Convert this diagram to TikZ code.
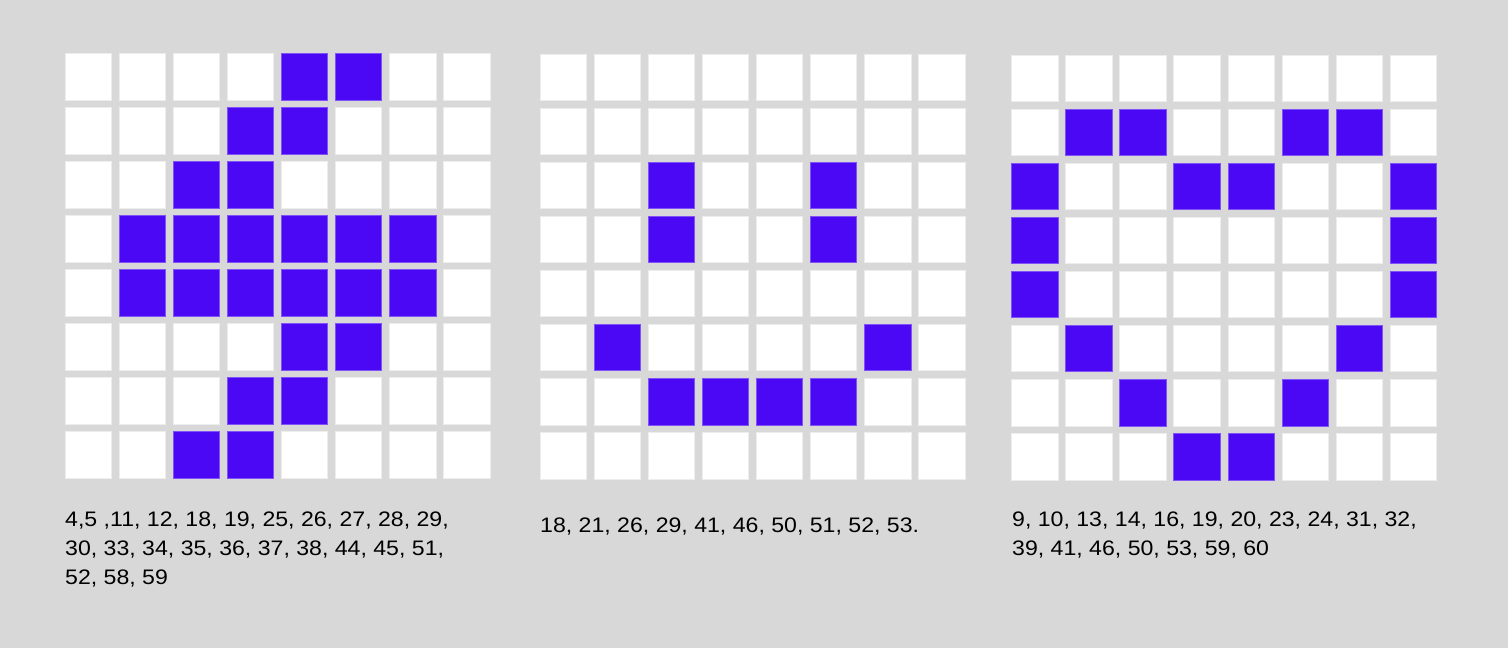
\documentclass[tikz,border=0pt]{standalone}
\usepackage{fontspec}
\setmainfont{Liberation Sans}[FakeStretch=1.1]
\definecolor{bg}{HTML}{D8D8D8}
\definecolor{pix}{HTML}{4B08F5}

\begin{document}
\begin{tikzpicture}[x=1pt,y=-1pt,
  cell/.style={draw=black!7,line width=0.8pt,fill=white,minimum size=46.6pt,inner sep=0pt,outer sep=0pt},
  oncell/.style={cell,fill=pix,draw=pix!70!white},
  caption/.style={anchor=base west,inner sep=0pt,align=left,font=\fontsize{21}{29}\selectfont}]
  \useasboundingbox (0,0) rectangle (1508,648);
  \fill[bg] (0,0) rectangle (1508,648);
  % first grid
  \foreach \n in {0,...,63}
    \node[cell] (a\n) at ({88.3+mod(\n,8)*54.05},{76.6+int(\n/8)*54.05}) {};
  \foreach \n in {4,5,11,12,18,19,25,26,27,28,29,30,33,34,35,36,37,38,44,45,51,52,58,59}
    \node[oncell] (a\n) at ({88.3+mod(\n,8)*54.05},{76.6+int(\n/8)*54.05}) {};
  % second grid
  \foreach \n in {0,...,63}
    \node[cell] (b\n) at ({563.3+mod(\n,8)*54.05},{77.3+int(\n/8)*54.05}) {};
  \foreach \n in {18,21,26,29,41,46,50,51,52,53}
    \node[oncell] (b\n) at ({563.3+mod(\n,8)*54.05},{77.3+int(\n/8)*54.05}) {};
  % third grid
  \foreach \n in {0,...,63}
    \node[cell] (c\n) at ({1035+mod(\n,8)*54.05},{78.3+int(\n/8)*54.05}) {};
  \foreach \n in {9,10,13,14,16,19,20,23,24,31,32,39,41,46,50,53,59,60}
    \node[oncell] (c\n) at ({1035+mod(\n,8)*54.05},{78.3+int(\n/8)*54.05}) {};
  % captions (base is the last line)
  \node[caption] (capa) at (65,584) {4,5 ,11, 12, 18, 19, 25, 26, 27, 28, 29,\\30, 33, 34, 35, 36, 37, 38, 44, 45, 51,\\52, 58, 59};
  \node[caption] (capb) at (540,532) {18, 21, 26, 29, 41, 46, 50, 51, 52, 53.};
  \node[caption] (capc) at (1012,555) {9, 10, 13, 14, 16, 19, 20, 23, 24, 31, 32,\\39, 41, 46, 50, 53, 59, 60};
\end{tikzpicture}
\end{document}
